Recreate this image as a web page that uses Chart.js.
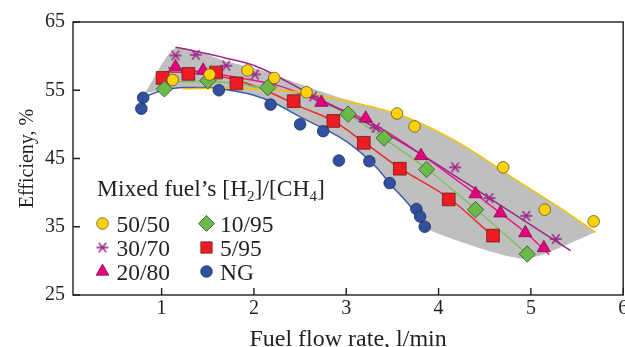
<!DOCTYPE html>
<html>
<head>
<meta charset="utf-8">
<script src="https://cdn.jsdelivr.net/npm/chart.js@4.4.1/dist/chart.umd.min.js"></script>
<style>
    html, body { margin: 0; padding: 0; background: #fff; overflow: hidden; }
    canvas { display: block; }
</style>
</head>
<body>
<!-- a little wider than the window: the last x label eats some right padding -->
<canvas id="efficiency" width="633" height="347"></canvas>
<script>
// tick labels
var xTicks = [1, 2, 3, 4, 5, 6];
var yTicks = [25, 35, 45, 55, 65];

// measured points for each [H2]/[CH4] mixture
var flow5050 = [1.12, 1.52, 1.93, 2.22, 2.57, 3.55, 3.74, 4.70, 5.15, 5.68];
var eff5050  = [56.5, 57.3, 57.9, 56.8, 54.7, 51.6, 49.7, 43.7, 37.5, 35.8];
var flow3070 = [1.15, 1.37, 1.70, 2.01, 2.64, 3.32, 4.18, 4.55, 4.95, 5.27];
var eff3070  = [60.1, 60.2, 58.6, 57.3, 54.1, 49.5, 43.7, 39.2, 36.6, 33.2];
var flow2080 = [1.15, 1.45, 2.73, 3.21, 3.81, 4.40, 4.67, 4.94, 5.14];
var eff2080  = [58.4, 57.9, 53.2, 50.9, 45.4, 39.8, 37.0, 34.1, 31.9];
var flow1095 = [1.03, 1.50, 2.15, 3.02, 3.41, 3.87, 4.40, 4.96];
var eff1095  = [55.2, 56.4, 55.4, 51.5, 48.0, 43.4, 37.5, 31.0];
var flow595  = [1.01, 1.29, 1.59, 1.81, 2.43, 2.86, 3.19, 3.58, 4.11, 4.59];
var eff595   = [56.8, 57.4, 57.6, 56.0, 53.4, 50.5, 47.3, 43.5, 39.0, 33.7];
var flowNG   = [0.80, 0.78, 1.62, 2.18, 2.50, 2.75, 2.92, 3.25, 3.47, 3.76, 3.80, 3.85];
var effNG    = [53.9, 52.3, 55.0, 52.9, 50.0, 49.0, 44.7, 44.6, 41.4, 37.6, 36.5, 35.0];

// trend curves
var fit5050X = [1.23, 1.74, 2.06, 2.50, 2.93, 3.58, 4.22, 4.87, 5.30, 5.70];
var fit5050Y = [55.2, 55.3, 55.2, 54.7, 53.6, 51.4, 47.3, 41.6, 37.9, 34.2];
var fit3070X = [1.15, 1.37, 1.70, 2.01, 2.64, 3.32, 3.79, 4.55, 5.43];
var fit3070Y = [61.3, 60.7, 59.7, 58.6, 54.2, 49.5, 45.8, 39.2, 31.5];
var fit2080X = [1.07, 1.42, 1.85, 2.28, 2.73, 3.22, 3.79, 4.40, 4.67, 4.94, 5.20];
var fit2080Y = [58.3, 57.7, 56.8, 55.6, 53.3, 50.6, 45.8, 39.8, 37.0, 34.2, 30.9];
var fit1095X = [1.09, 1.42, 1.74, 2.10, 2.46, 3.01, 3.40, 3.87, 4.40, 4.96];
var fit1095Y = [56.2, 56.3, 56.1, 55.3, 54.6, 51.5, 48.0, 43.5, 37.6, 31.0];
var fit595X  = [1.04, 1.42, 1.81, 2.17, 2.50, 2.86, 3.19, 3.59, 4.12, 4.59];
var fit595Y  = [57.7, 57.4, 56.5, 54.7, 52.6, 50.5, 47.4, 43.5, 39.1, 33.6];
var fitNGX   = [0.84, 1.02, 1.24, 1.49, 1.74, 1.99, 2.21, 2.50, 3.00, 3.32, 3.50, 3.70, 3.85];
var fitNGY   = [54.2, 55.0, 55.4, 55.4, 55.0, 54.3, 53.2, 51.1, 47.5, 43.8, 40.9, 37.9, 34.8];

// grey envelope
var bandTopX = [0.82, 1.15, 1.74, 2.06, 2.50, 2.93, 3.58, 4.22, 4.87, 5.30, 5.70];
var bandTopY = [54.6, 61.2, 59.1, 58.0, 55.9, 53.9, 51.4, 47.3, 41.6, 37.9, 34.2];
var bandLowX = [0.82, 1.02, 1.24, 1.49, 1.74, 1.99, 2.21, 2.50, 3.00, 3.32, 3.50, 3.70, 3.85, 4.93, 5.70];
var bandLowY = [54.6, 55.0, 55.4, 55.4, 55.0, 54.3, 53.2, 51.1, 47.5, 43.8, 40.9, 37.9, 34.8, 30.3, 34.2];

var serif = "'Liberation Serif', 'Times New Roman', serif";
var ink = '#231f20';

function pts(xs, ys) {
    var out = [];
    for (var i = 0; i < xs.length; i++) out.push({x: xs[i], y: ys[i]});
    return out;
}

// x with a horizontal bar, like the 30/70 marker
function asterisk(color) {
    var cv = document.createElement('canvas');
    cv.width = 14; cv.height = 14;
    var g = cv.getContext('2d');
    g.strokeStyle = color;
    g.lineWidth = 1.6;
    g.translate(7, 7);
    [0, 52, 128].forEach(function(a) {
        var r = a * Math.PI / 180;
        g.beginPath();
        g.moveTo(-6 * Math.cos(r), -6 * Math.sin(r));
        g.lineTo(6 * Math.cos(r), 6 * Math.sin(r));
        g.stroke();
    });
    return cv;
}

var purple = '#9c2786';
var starImg = asterisk(purple);

var series = [
    {label: '50/50', fill: '#ffd200', edge: '#5b5536', style: 'circle',   r: 5.8, legendR: 5.8},
    {label: '30/70', fill: purple,    edge: purple,    style: starImg,    r: 6,   legendR: 6},
    {label: '20/80', fill: '#e6007e', edge: '#7d1247', style: 'triangle', r: 7.6, legendR: 7.4},
    {label: '10/95', fill: '#6cb84a', edge: '#34502a', style: 'rectRot',  r: 8.2, legendR: 8},
    {label: '5/95',  fill: '#ed1c24', edge: '#6e1a1a', style: 'rect',     r: 9,   legendR: 8},
    {label: 'NG',    fill: '#31509f', edge: '#1e2d5c', style: 'circle',   r: 5.8, legendR: 5.8}
];
var pointData = [
    pts(flow5050, eff5050), pts(flow3070, eff3070), pts(flow2080, eff2080),
    pts(flow1095, eff1095), pts(flow595, eff595), pts(flowNG, effNG)
];
var fitData = [
    [pts(fit5050X, fit5050Y), '#f5c400'],
    [pts(fit3070X, fit3070Y), purple],
    [pts(fit2080X, fit2080Y), '#e8198b'],
    [pts(fit1095X, fit1095Y), '#7cc35a'],
    [pts(fit595X, fit595Y), '#ee2a24'],
    [pts(fitNGX, fitNGY), '#3d5cae']
];

var datasets = [];
// 0: lower edge of envelope, 1: upper edge filled down to it
datasets.push({
    data: pts(bandLowX, bandLowY), showLine: true, borderWidth: 0,
    pointRadius: 0, tension: 0.2, order: 3, fill: false
});
datasets.push({
    data: pts(bandTopX, bandTopY), showLine: true, borderWidth: 0,
    pointRadius: 0, tension: 0.2, order: 3,
    fill: {target: 0}, backgroundColor: '#bfbfbf'
});
fitData.forEach(function(f) {
    datasets.push({
        data: f[0], showLine: true, borderColor: f[1], borderWidth: 1.5,
        pointRadius: 0, cubicInterpolationMode: 'monotone', order: 2
    });
});
series.forEach(function(s, i) {
    datasets.push({
        label: s.label, data: pointData[i], showLine: false,
        pointStyle: s.style, pointRadius: s.r, pointHoverRadius: s.r,
        backgroundColor: s.fill, borderColor: s.edge, pointBorderWidth: 0.8,
        order: 1
    });
});

var frame = {
    id: 'frame',
    afterDraw: function(chart) {
        var c = chart.ctx, a = chart.chartArea;
        var xs = chart.scales.x, ys = chart.scales.y;
        c.save();
        c.strokeStyle = ink;
        c.lineWidth = 1.4;
        c.strokeRect(a.left, a.top, a.right - a.left, a.bottom - a.top);
        c.beginPath();
        yTicks.forEach(function(v) {
            var p = ys.getPixelForValue(v);
            c.moveTo(a.left, p); c.lineTo(a.left + 7, p);
        });
        xTicks.forEach(function(v) {
            var p = xs.getPixelForValue(v);
            c.moveTo(p, a.bottom); c.lineTo(p, a.bottom - 7);
        });
        c.stroke();
        c.restore();
    }
};

var fuelLegend = {
    id: 'fuelLegend',
    afterDraw: function(chart) {
        var c = chart.ctx;
        c.save();
        c.fillStyle = ink;
        c.textBaseline = 'alphabetic';
        var big = '23.5px ' + serif, small = '15px ' + serif;
        var x = 97, y = 196;
        [['Mixed fuel\u2019s [H', 0], ['2', 1], [']/[CH', 0], ['4', 1], [']', 0]].forEach(function(p) {
            c.font = p[1] ? small : big;
            c.fillText(p[0], x, y + (p[1] ? 5 : 0));
            x += c.measureText(p[0]).width;
        });
        series.forEach(function(s, i) {
            var col = Math.floor(i / 3), row = i % 3;
            var mx = col ? 206.5 : 102.5;
            var my = 223.5 + row * 24;
            c.fillStyle = s.fill;
            c.strokeStyle = s.edge;
            c.lineWidth = 0.8;
            Chart.helpers.drawPoint(c, {pointStyle: s.style, radius: s.legendR, rotation: 0, borderWidth: 0.8}, mx, my);
            c.fillStyle = ink;
            c.font = big;
            c.fillText(s.label, col ? 220 : 116.5, my + 8);
        });
        c.restore();
    }
};

var ctx = document.getElementById('efficiency');
var chart = new Chart(ctx, {
    type: 'scatter',
    data: {datasets: datasets},
    options: {
        responsive: false,
        animation: false,
        layout: {padding: {top: 22, right: 2, bottom: 0, left: 0}},
        plugins: {legend: {display: false}, tooltip: {enabled: false}},
        scales: {
            x: {
                type: 'linear', min: 0.04, max: 6,
                afterBuildTicks: function(s) { s.ticks = xTicks.map(function(v) { return {value: v}; }); },
                afterFit: function(s) { s.height = 52; },
                grid: {display: false, drawTicks: false},
                border: {display: false},
                ticks: {font: {family: serif, size: 20}, color: ink, padding: 2, maxRotation: 0, autoSkip: false},
                title: {display: true, text: 'Fuel flow rate, l/min', color: ink,
                        font: {family: serif, size: 24, lineHeight: 0.62}, padding: {top: 0, bottom: 0}}
            },
            y: {
                type: 'linear', min: 25, max: 65,
                afterBuildTicks: function(s) { s.ticks = yTicks.map(function(v) { return {value: v}; }); },
                afterFit: function(s) { s.width = 73; s.paddingTop = 0; s.paddingBottom = 0; },
                grid: {display: false, drawTicks: false},
                border: {display: false},
                ticks: {font: {family: serif, size: 20}, color: ink, padding: 8},
                title: {display: true, text: 'Efficieny, %', color: ink,
                        font: {family: serif, size: 20, lineHeight: 1}, padding: {top: 18, bottom: 0}}
            }
        }
    },
    plugins: [frame, fuelLegend]
});
</script>
</body>
</html>
